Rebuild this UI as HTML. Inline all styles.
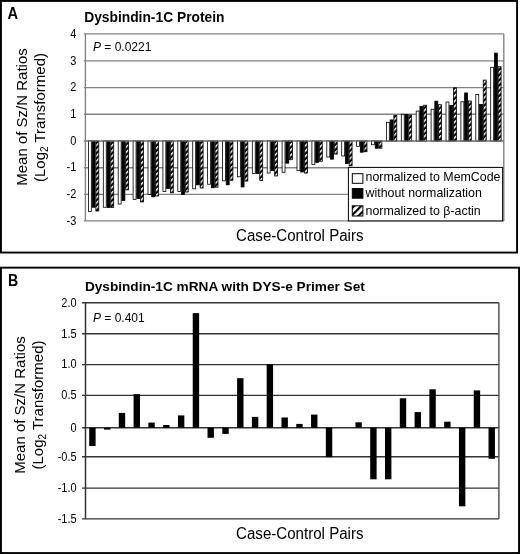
<!DOCTYPE html><html><head><meta charset="utf-8"><style>html,body{margin:0;padding:0;background:#fff;}svg{display:block;filter:grayscale(1);}</style></head><body>
<svg width="520" height="554" viewBox="0 0 520 554" font-family='"Liberation Sans", sans-serif'>
<defs><pattern id="hatch" patternUnits="userSpaceOnUse" width="3.7" height="3.7" patternTransform="rotate(45)"><rect width="3.7" height="3.7" fill="#000"/><rect x="0" y="0" width="1.5" height="3.7" fill="#fff"/></pattern><pattern id="hatchL" patternUnits="userSpaceOnUse" width="5" height="5" patternTransform="rotate(45)"><rect width="5" height="5" fill="#fff"/><rect x="0" y="0" width="2.2" height="5" fill="#000"/></pattern></defs>
<rect width="520" height="554" fill="#fff"/>
<rect x="0.95" y="0.95" width="516.1" height="251.6" fill="none" stroke="#000" stroke-width="1.9"/>
<text transform="translate(7.6,18.5) scale(0.98,1.11)" font-size="15" font-weight="bold">A</text>
<text x="84.2" y="21.5" font-size="13.8" font-weight="bold">Dysbindin-1C Protein</text>
<line x1="83.9" y1="220.9" x2="503.8" y2="220.9" stroke="#828282" stroke-width="1.4"/>
<text transform="translate(76.4,220.3) scale(1,1.09)" y="3.94" font-size="11" text-anchor="end">-3</text>
<line x1="83.9" y1="194.42" x2="503.8" y2="194.42" stroke="#828282" stroke-width="1.4"/>
<text transform="translate(76.4,193.82) scale(1,1.09)" y="3.94" font-size="11" text-anchor="end">-2</text>
<line x1="83.9" y1="167.71" x2="503.8" y2="167.71" stroke="#828282" stroke-width="1.4"/>
<text transform="translate(76.4,167.11) scale(1,1.09)" y="3.94" font-size="11" text-anchor="end">-1</text>
<line x1="83.9" y1="141" x2="503.8" y2="141" stroke="#828282" stroke-width="1.4"/>
<text transform="translate(76.4,140.4) scale(1,1.09)" y="3.94" font-size="11" text-anchor="end">0</text>
<line x1="83.9" y1="114.29" x2="503.8" y2="114.29" stroke="#828282" stroke-width="1.4"/>
<text transform="translate(76.4,113.69) scale(1,1.09)" y="3.94" font-size="11" text-anchor="end">1</text>
<line x1="83.9" y1="87.58" x2="503.8" y2="87.58" stroke="#828282" stroke-width="1.4"/>
<text transform="translate(76.4,86.98) scale(1,1.09)" y="3.94" font-size="11" text-anchor="end">2</text>
<line x1="83.9" y1="60.87" x2="503.8" y2="60.87" stroke="#828282" stroke-width="1.4"/>
<text transform="translate(76.4,60.27) scale(1,1.09)" y="3.94" font-size="11" text-anchor="end">3</text>
<line x1="83.9" y1="33.9" x2="503.8" y2="33.9" stroke="#828282" stroke-width="1.4"/>
<text transform="translate(76.4,33.3) scale(1,1.09)" y="3.94" font-size="11" text-anchor="end">4</text>
<line x1="85.4" y1="33.9" x2="85.4" y2="220.9" stroke="#828282" stroke-width="1.4"/>
<line x1="503.8" y1="33.9" x2="503.8" y2="220.9" stroke="#828282" stroke-width="1.4"/>
<rect x="88.41" y="141" width="2.93" height="70.51" fill="#fff" stroke="#000" stroke-width="0.8"/>
<rect x="92.14" y="141" width="2.93" height="66.24" fill="#000" stroke="#000" stroke-width="0.8"/>
<rect x="95.86" y="141" width="2.93" height="69.98" fill="url(#hatch)" stroke="#000" stroke-width="0.8"/>
<rect x="103.31" y="141" width="2.93" height="66.24" fill="#fff" stroke="#000" stroke-width="0.8"/>
<rect x="107.04" y="141" width="2.93" height="66.51" fill="#000" stroke="#000" stroke-width="0.8"/>
<rect x="110.77" y="141" width="2.93" height="66.51" fill="url(#hatch)" stroke="#000" stroke-width="0.8"/>
<rect x="118.2" y="141" width="2.93" height="63.04" fill="#fff" stroke="#000" stroke-width="0.8"/>
<rect x="121.94" y="141" width="2.93" height="59.56" fill="#000" stroke="#000" stroke-width="0.8"/>
<rect x="125.66" y="141" width="2.93" height="48.88" fill="url(#hatch)" stroke="#000" stroke-width="0.8"/>
<rect x="133.11" y="141" width="2.93" height="58.49" fill="#fff" stroke="#000" stroke-width="0.8"/>
<rect x="136.84" y="141" width="2.93" height="57.43" fill="#000" stroke="#000" stroke-width="0.8"/>
<rect x="140.57" y="141" width="2.93" height="60.9" fill="url(#hatch)" stroke="#000" stroke-width="0.8"/>
<rect x="148" y="141" width="2.93" height="53.42" fill="#fff" stroke="#000" stroke-width="0.8"/>
<rect x="151.73" y="141" width="2.93" height="55.82" fill="#000" stroke="#000" stroke-width="0.8"/>
<rect x="155.47" y="141" width="2.93" height="55.02" fill="url(#hatch)" stroke="#000" stroke-width="0.8"/>
<rect x="162.91" y="141" width="2.93" height="50.48" fill="#fff" stroke="#000" stroke-width="0.8"/>
<rect x="166.63" y="141" width="2.93" height="47.54" fill="#000" stroke="#000" stroke-width="0.8"/>
<rect x="170.37" y="141" width="2.93" height="51.82" fill="url(#hatch)" stroke="#000" stroke-width="0.8"/>
<rect x="177.81" y="141" width="2.93" height="50.48" fill="#fff" stroke="#000" stroke-width="0.8"/>
<rect x="181.53" y="141" width="2.93" height="53.42" fill="#000" stroke="#000" stroke-width="0.8"/>
<rect x="185.27" y="141" width="2.93" height="51.02" fill="url(#hatch)" stroke="#000" stroke-width="0.8"/>
<rect x="192.7" y="141" width="2.93" height="47.81" fill="#fff" stroke="#000" stroke-width="0.8"/>
<rect x="196.43" y="141" width="2.93" height="43.8" fill="#000" stroke="#000" stroke-width="0.8"/>
<rect x="200.16" y="141" width="2.93" height="47.01" fill="url(#hatch)" stroke="#000" stroke-width="0.8"/>
<rect x="207.61" y="141" width="2.93" height="43.27" fill="#fff" stroke="#000" stroke-width="0.8"/>
<rect x="211.34" y="141" width="2.93" height="46.74" fill="#000" stroke="#000" stroke-width="0.8"/>
<rect x="215.07" y="141" width="2.93" height="46.21" fill="url(#hatch)" stroke="#000" stroke-width="0.8"/>
<rect x="222.5" y="141" width="2.93" height="39.8" fill="#fff" stroke="#000" stroke-width="0.8"/>
<rect x="226.23" y="141" width="2.93" height="43.8" fill="#000" stroke="#000" stroke-width="0.8"/>
<rect x="229.97" y="141" width="2.93" height="39.26" fill="url(#hatch)" stroke="#000" stroke-width="0.8"/>
<rect x="237.41" y="141" width="2.93" height="35.79" fill="#fff" stroke="#000" stroke-width="0.8"/>
<rect x="241.13" y="141" width="2.93" height="45.94" fill="#000" stroke="#000" stroke-width="0.8"/>
<rect x="244.87" y="141" width="2.93" height="40.06" fill="url(#hatch)" stroke="#000" stroke-width="0.8"/>
<rect x="252.31" y="141" width="2.93" height="32.59" fill="#fff" stroke="#000" stroke-width="0.8"/>
<rect x="256.03" y="141" width="2.93" height="32.59" fill="#000" stroke="#000" stroke-width="0.8"/>
<rect x="259.76" y="141" width="2.93" height="39.53" fill="url(#hatch)" stroke="#000" stroke-width="0.8"/>
<rect x="267.2" y="141" width="2.93" height="32.05" fill="#fff" stroke="#000" stroke-width="0.8"/>
<rect x="270.93" y="141" width="2.93" height="29.65" fill="#000" stroke="#000" stroke-width="0.8"/>
<rect x="274.66" y="141" width="2.93" height="34.99" fill="url(#hatch)" stroke="#000" stroke-width="0.8"/>
<rect x="282.1" y="141" width="2.93" height="31.25" fill="#fff" stroke="#000" stroke-width="0.8"/>
<rect x="285.83" y="141" width="2.93" height="22.17" fill="#000" stroke="#000" stroke-width="0.8"/>
<rect x="289.56" y="141" width="2.93" height="18.7" fill="url(#hatch)" stroke="#000" stroke-width="0.8"/>
<rect x="297" y="141" width="2.93" height="29.65" fill="#fff" stroke="#000" stroke-width="0.8"/>
<rect x="300.73" y="141" width="2.93" height="30.98" fill="#000" stroke="#000" stroke-width="0.8"/>
<rect x="304.46" y="141" width="2.93" height="32.05" fill="url(#hatch)" stroke="#000" stroke-width="0.8"/>
<rect x="311.9" y="141" width="2.93" height="23.5" fill="#fff" stroke="#000" stroke-width="0.8"/>
<rect x="315.63" y="141" width="2.93" height="21.37" fill="#000" stroke="#000" stroke-width="0.8"/>
<rect x="319.36" y="141" width="2.93" height="20.3" fill="url(#hatch)" stroke="#000" stroke-width="0.8"/>
<rect x="326.8" y="141" width="2.93" height="16.03" fill="#fff" stroke="#000" stroke-width="0.8"/>
<rect x="330.53" y="141" width="2.93" height="18.16" fill="#000" stroke="#000" stroke-width="0.8"/>
<rect x="334.26" y="141" width="2.93" height="13.09" fill="url(#hatch)" stroke="#000" stroke-width="0.8"/>
<rect x="341.7" y="141" width="2.93" height="14.96" fill="#fff" stroke="#000" stroke-width="0.8"/>
<rect x="345.43" y="141" width="2.93" height="22.44" fill="#000" stroke="#000" stroke-width="0.8"/>
<rect x="349.16" y="141" width="2.93" height="24.84" fill="url(#hatch)" stroke="#000" stroke-width="0.8"/>
<rect x="356.6" y="141" width="2.93" height="5.34" fill="#fff" stroke="#000" stroke-width="0.8"/>
<rect x="360.33" y="141" width="2.93" height="11.22" fill="#000" stroke="#000" stroke-width="0.8"/>
<rect x="364.06" y="141" width="2.93" height="10.68" fill="url(#hatch)" stroke="#000" stroke-width="0.8"/>
<rect x="371.5" y="141" width="2.93" height="3.74" fill="#fff" stroke="#000" stroke-width="0.8"/>
<rect x="375.24" y="141" width="2.93" height="7.21" fill="#000" stroke="#000" stroke-width="0.8"/>
<rect x="378.96" y="141" width="2.93" height="7.21" fill="url(#hatch)" stroke="#000" stroke-width="0.8"/>
<rect x="386.4" y="122.3" width="2.93" height="18.7" fill="#fff" stroke="#000" stroke-width="0.8"/>
<rect x="390.13" y="119.9" width="2.93" height="21.1" fill="#000" stroke="#000" stroke-width="0.8"/>
<rect x="393.86" y="115.36" width="2.93" height="25.64" fill="url(#hatch)" stroke="#000" stroke-width="0.8"/>
<rect x="401.3" y="114.29" width="2.93" height="26.71" fill="#fff" stroke="#000" stroke-width="0.8"/>
<rect x="405.03" y="114.56" width="2.93" height="26.44" fill="#000" stroke="#000" stroke-width="0.8"/>
<rect x="408.76" y="115.09" width="2.93" height="25.91" fill="url(#hatch)" stroke="#000" stroke-width="0.8"/>
<rect x="416.2" y="111.08" width="2.93" height="29.92" fill="#fff" stroke="#000" stroke-width="0.8"/>
<rect x="419.93" y="106.28" width="2.93" height="34.72" fill="#000" stroke="#000" stroke-width="0.8"/>
<rect x="423.66" y="105.21" width="2.93" height="35.79" fill="url(#hatch)" stroke="#000" stroke-width="0.8"/>
<rect x="431.1" y="109.22" width="2.93" height="31.78" fill="#fff" stroke="#000" stroke-width="0.8"/>
<rect x="434.83" y="101.2" width="2.93" height="39.8" fill="#000" stroke="#000" stroke-width="0.8"/>
<rect x="438.56" y="104.67" width="2.93" height="36.33" fill="url(#hatch)" stroke="#000" stroke-width="0.8"/>
<rect x="446" y="102" width="2.93" height="39" fill="#fff" stroke="#000" stroke-width="0.8"/>
<rect x="449.74" y="105.48" width="2.93" height="35.52" fill="#000" stroke="#000" stroke-width="0.8"/>
<rect x="453.46" y="87.85" width="2.93" height="53.15" fill="url(#hatch)" stroke="#000" stroke-width="0.8"/>
<rect x="460.9" y="101.74" width="2.93" height="39.26" fill="#fff" stroke="#000" stroke-width="0.8"/>
<rect x="464.63" y="92.92" width="2.93" height="48.08" fill="#000" stroke="#000" stroke-width="0.8"/>
<rect x="468.36" y="100.94" width="2.93" height="40.06" fill="url(#hatch)" stroke="#000" stroke-width="0.8"/>
<rect x="475.8" y="94.52" width="2.93" height="46.48" fill="#fff" stroke="#000" stroke-width="0.8"/>
<rect x="479.53" y="104.41" width="2.93" height="36.59" fill="#000" stroke="#000" stroke-width="0.8"/>
<rect x="483.26" y="80.1" width="2.93" height="60.9" fill="url(#hatch)" stroke="#000" stroke-width="0.8"/>
<rect x="490.7" y="67.28" width="2.93" height="73.72" fill="#fff" stroke="#000" stroke-width="0.8"/>
<rect x="494.43" y="53.12" width="2.93" height="87.88" fill="#000" stroke="#000" stroke-width="0.8"/>
<rect x="498.16" y="66.75" width="2.93" height="74.25" fill="url(#hatch)" stroke="#000" stroke-width="0.8"/>
<line x1="83.9" y1="141" x2="503.8" y2="141" stroke="#828282" stroke-width="1.2"/>
<text x="93" y="51.3" font-size="12"><tspan font-style="italic">P</tspan> = 0.0221</text>
<rect x="348.4" y="167.4" width="154.2" height="53.5" fill="#fff" stroke="#000" stroke-width="1"/>
<rect x="352.3" y="173.7" width="10.6" height="9.6" fill="#fff" stroke="#000" stroke-width="1"/>
<rect x="352.3" y="188.6" width="10.6" height="9.6" fill="#000" stroke="#000" stroke-width="1"/>
<rect x="352.3" y="205.8" width="10.6" height="10.2" fill="url(#hatchL)" stroke="#000" stroke-width="1"/>
<text x="365.5" y="181.1" font-size="12.4">normalized to MemCode</text>
<text x="365.5" y="197.4" font-size="12.4">without normalization</text>
<text x="365.5" y="214.6" font-size="12.4">normalized to β-actin</text>
<text transform="translate(299.8,240.6) scale(1,1.1)" font-size="15.1" text-anchor="middle">Case-Control Pairs</text>
<text transform="translate(26.6,117) rotate(-90)" font-size="15" text-anchor="middle">Mean of Sz/N Ratios</text>
<text transform="translate(44.7,117.5) rotate(-90)" font-size="15" text-anchor="middle">(Log<tspan font-size="10" dy="3">2</tspan><tspan dy="-3"> Transformed)</tspan></text>
<rect x="0.95" y="267.65" width="518.1" height="285.4" fill="none" stroke="#000" stroke-width="1.9"/>
<text transform="translate(8.1,285.8) scale(0.94,1.1)" font-size="15" font-weight="bold">B</text>
<text x="84.9" y="290.8" font-size="13.65" font-weight="bold">Dysbindin-1C mRNA with DYS-e Primer Set</text>
<line x1="82" y1="302.8" x2="498.9" y2="302.8" stroke="#333" stroke-width="1.4"/>
<text transform="translate(76.6,302.4) scale(1,1.09)" y="3.94" font-size="11" text-anchor="end">2.0</text>
<line x1="82" y1="333.8" x2="498.9" y2="333.8" stroke="#333" stroke-width="1.4"/>
<text transform="translate(76.6,333.4) scale(1,1.09)" y="3.94" font-size="11" text-anchor="end">1.5</text>
<line x1="82" y1="364.6" x2="498.9" y2="364.6" stroke="#333" stroke-width="1.4"/>
<text transform="translate(76.6,364.2) scale(1,1.09)" y="3.94" font-size="11" text-anchor="end">1.0</text>
<line x1="82" y1="395.4" x2="498.9" y2="395.4" stroke="#333" stroke-width="1.4"/>
<text transform="translate(76.6,395) scale(1,1.09)" y="3.94" font-size="11" text-anchor="end">0.5</text>
<line x1="82" y1="427.7" x2="498.9" y2="427.7" stroke="#333" stroke-width="1.4"/>
<text transform="translate(76.6,427.3) scale(1,1.09)" y="3.94" font-size="11" text-anchor="end">0</text>
<line x1="82" y1="456.8" x2="498.9" y2="456.8" stroke="#333" stroke-width="1.4"/>
<text transform="translate(76.6,456.4) scale(1,1.09)" y="3.94" font-size="11" text-anchor="end">-0.5</text>
<line x1="82" y1="488.1" x2="498.9" y2="488.1" stroke="#333" stroke-width="1.4"/>
<text transform="translate(76.6,487.7) scale(1,1.09)" y="3.94" font-size="11" text-anchor="end">-1.0</text>
<line x1="82" y1="518.9" x2="498.9" y2="518.9" stroke="#333" stroke-width="1.4"/>
<text transform="translate(76.6,518.5) scale(1,1.09)" y="3.94" font-size="11" text-anchor="end">-1.5</text>
<line x1="85.5" y1="302.8" x2="85.5" y2="518.9" stroke="#333" stroke-width="1.5"/>
<line x1="498.9" y1="302.8" x2="498.9" y2="518.9" stroke="#555" stroke-width="1.5"/>
<rect x="89.2" y="427.7" width="6.4" height="18.3" fill="#000"/>
<rect x="103.99" y="427.7" width="6.4" height="1.9" fill="#000"/>
<rect x="118.78" y="412.9" width="6.4" height="14.8" fill="#000"/>
<rect x="133.57" y="394.1" width="6.4" height="33.6" fill="#000"/>
<rect x="148.36" y="422.6" width="6.4" height="5.1" fill="#000"/>
<rect x="163.15" y="425" width="6.4" height="2.7" fill="#000"/>
<rect x="177.94" y="415.4" width="6.4" height="12.3" fill="#000"/>
<rect x="192.73" y="313.1" width="6.4" height="114.6" fill="#000"/>
<rect x="207.52" y="427.7" width="6.4" height="10.1" fill="#000"/>
<rect x="222.31" y="427.7" width="6.4" height="6.2" fill="#000"/>
<rect x="237.1" y="378.2" width="6.4" height="49.5" fill="#000"/>
<rect x="251.89" y="416.9" width="6.4" height="10.8" fill="#000"/>
<rect x="266.68" y="364.2" width="6.4" height="63.5" fill="#000"/>
<rect x="281.47" y="417.5" width="6.4" height="10.2" fill="#000"/>
<rect x="296.26" y="423.9" width="6.4" height="3.8" fill="#000"/>
<rect x="311.05" y="414.6" width="6.4" height="13.1" fill="#000"/>
<rect x="325.84" y="427.7" width="6.4" height="29.5" fill="#000"/>
<rect x="355.42" y="422.3" width="6.4" height="5.4" fill="#000"/>
<rect x="370.21" y="427.7" width="6.4" height="51.6" fill="#000"/>
<rect x="385" y="427.7" width="6.4" height="51.6" fill="#000"/>
<rect x="399.79" y="398.3" width="6.4" height="29.4" fill="#000"/>
<rect x="414.58" y="412.1" width="6.4" height="15.6" fill="#000"/>
<rect x="429.37" y="389.3" width="6.4" height="38.4" fill="#000"/>
<rect x="444.16" y="421.7" width="6.4" height="6" fill="#000"/>
<rect x="458.95" y="427.7" width="6.4" height="78.6" fill="#000"/>
<rect x="473.74" y="390.4" width="6.4" height="37.3" fill="#000"/>
<rect x="488.53" y="427.7" width="6.4" height="31.1" fill="#000"/>
<text x="93" y="322.1" font-size="12"><tspan font-style="italic">P</tspan> = 0.401</text>
<text transform="translate(299.8,539.2) scale(1,1.1)" font-size="15.1" text-anchor="middle">Case-Control Pairs</text>
<text transform="translate(25.4,405) rotate(-90)" font-size="15" text-anchor="middle">Mean of Sz/N Ratios</text>
<text transform="translate(43.2,405) rotate(-90)" font-size="15" text-anchor="middle">(Log<tspan font-size="10" dy="3">2</tspan><tspan dy="-3"> Transformed)</tspan></text>
</svg></body></html>
